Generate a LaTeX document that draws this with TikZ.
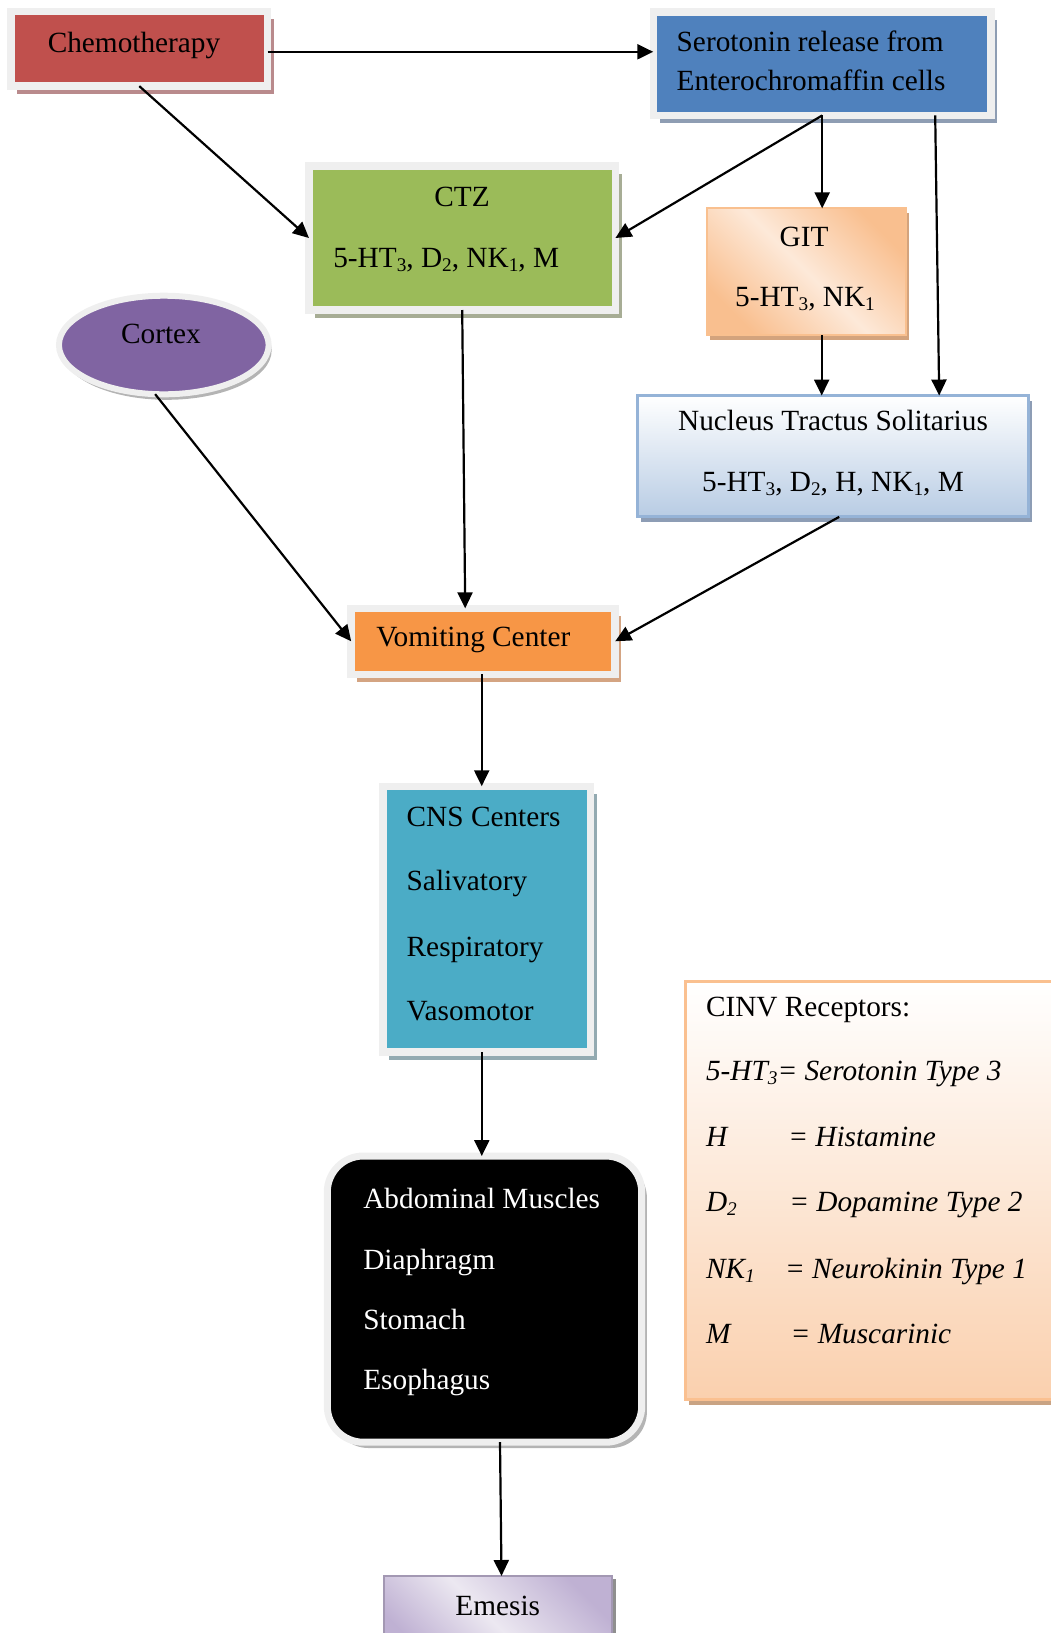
\documentclass[tikz,border=0pt]{standalone}
\usepackage{fontspec}
\setmainfont{Liberation Serif}
\usetikzlibrary{arrows.meta,shapes.geometric,shadows,calc}

\definecolor{frameg}{HTML}{EFEFEF}
\definecolor{chemoC}{HTML}{C0504D}\definecolor{chemoS}{HTML}{B98A8C}
\definecolor{seroC}{HTML}{4F81BD}\definecolor{seroS}{HTML}{8E9DB3}
\definecolor{ctzC}{HTML}{9BBB59}\definecolor{ctzS}{HTML}{A7AD95}
\definecolor{vcC}{HTML}{F79646}\definecolor{vcS}{HTML}{D4A482}
\definecolor{cnsC}{HTML}{4BACC6}\definecolor{cnsS}{HTML}{93AAB1}
\definecolor{cortC}{HTML}{8064A2}\definecolor{greyS}{HTML}{B4B4B4}
\definecolor{gitD}{HTML}{F9BF8F}\definecolor{gitL}{HTML}{FDE9D9}\definecolor{gitB}{HTML}{F9C08F}\definecolor{gitS}{HTML}{D3A37D}
\definecolor{ntsB}{HTML}{95B3D7}\definecolor{ntsD}{HTML}{B8CCE4}\definecolor{ntsS}{HTML}{8D9DB5}
\definecolor{legB}{HTML}{FAC090}\definecolor{legD}{HTML}{FAD0AE}\definecolor{legS}{HTML}{C9A383}
\definecolor{emD}{HTML}{BFB1D3}\definecolor{emL}{HTML}{ECE8F1}\definecolor{emB}{HTML}{A398B3}\definecolor{emS}{HTML}{8F8F8F}

\pgfdeclarehorizontalshading{gitsh}{100bp}{color(0bp)=(gitD); color(25bp)=(gitD); color(50bp)=(gitL); color(75bp)=(gitD); color(100bp)=(gitD)}
\pgfdeclarehorizontalshading{emsh}{100bp}{color(0bp)=(emD); color(25bp)=(emD); color(48bp)=(emL); color(75bp)=(emD); color(100bp)=(emD)}

\newcommand\mysub[1]{\raisebox{-4pt}{\fontsize{19.3}{19.3}\selectfont #1}}

\tikzset{
  arr/.style={line width=2.2pt,-{Triangle[length=16pt,width=15pt]}},
  bevel/.style={rectangle,inner sep=0pt,outer sep=0pt,draw=frameg,line width=7.5pt},
  thinbox/.style={rectangle,inner sep=0pt,outer sep=0pt},
  lbl/.style={inner sep=0pt,outer sep=0pt,font=\fontsize{29.3}{34}\selectfont},
  ilbl/.style={lbl,font=\fontsize{29.3}{34}\selectfont\itshape},
  shd/.style args={#1/#2/#3}{drop shadow={shadow xshift=#1,shadow yshift=#2,fill=#3,opacity=1}}
}

\begin{document}
\begin{tikzpicture}[x=1pt,y=-1pt]
\useasboundingbox (0,0) rectangle (1051,1633);
\clip (0,0) rectangle (1051,1633);

% boxes
\node[bevel,fill=chemoC,shd={6.25pt/-7.75pt/chemoS},minimum width=256.7pt,minimum height=74.7pt] (chemo) at (139.3,48.8) {};
\node[bevel,fill=seroC,shd={6.25pt/-7.75pt/seroS},minimum width=337.9pt,minimum height=103.3pt] (serot) at (822.2,63.8) {};
\node[bevel,fill=ctzC,shd={6.25pt/-7.75pt/ctzS},minimum width=306.4pt,minimum height=144pt] (ctz) at (462.2,238) {};
\node[thinbox,draw=gitB,line width=2pt,shading=gitsh,shading angle=45,shd={2.5pt/-4.5pt/gitS},minimum width=199.3pt,minimum height=126.7pt] (git) at (806.7,271.7) {};
\node[thinbox,draw=ntsB,line width=3pt,top color=white,bottom color=ntsD,shd={3pt/-5pt/ntsS},minimum width=390.6pt,minimum height=121.3pt] (nts) at (833.2,456.2) {};
\node[ellipse,inner sep=0pt,outer sep=0pt,draw=frameg,line width=6pt,fill=cortC,shd={3pt/-5.5pt/greyS},minimum width=209.7pt,minimum height=98.6pt] (cortex) at (163.8,345) {};
\node[bevel,fill=vcC,shd={6.25pt/-7.75pt/vcS},minimum width=264pt,minimum height=65.9pt] (vc) at (483.2,641.3) {};
\node[bevel,fill=cnsC,shd={6.25pt/-7.75pt/cnsS},minimum width=207.7pt,minimum height=265.9pt] (cns) at (486.8,919.2) {};
\node[bevel,line width=7pt,rounded corners=36pt,fill=black,shd={5.2pt/-5.8pt/greyS},minimum width=314.4pt,minimum height=286.2pt] (muscles) at (484.5,1299.1) {};
\node[thinbox,draw=emB,line width=2pt,shading=emsh,shading angle=45,shd={3.5pt/-3pt/emS},minimum width=228.6pt,minimum height=84pt] (emesis) at (498,1618) {};
\node[thinbox,draw=legB,line width=3pt,top color=white,bottom color=legD,shd={3pt/-5.5pt/legS},minimum width=384.5pt,minimum height=417.5pt] (legend) at (877.75,1190.25) {};

% texts
\node[lbl,anchor=base] (tchemo) at (134,52.7) {Chemotherapy};
\node[lbl,anchor=base west] (tsero1) at (676.7,51.7) {Serotonin release from};
\node[lbl,anchor=base west] (tsero2) at (676.7,90) {Enterochromaffin cells};
\node[lbl,anchor=base] (tctz1) at (462,206) {CTZ};
\node[lbl,anchor=base west] (tctz2) at (333.3,267.3) {5-HT\mysub{3}, D\mysub{2}, NK\mysub{1}, M};
\node[lbl,anchor=base] (tgit1) at (804,246) {GIT};
\node[lbl,anchor=base] (tgit2) at (805,306.7) {5-HT\mysub{3}, NK\mysub{1}};
\node[lbl,anchor=base] (tnts1) at (833,430) {Nucleus Tractus Solitarius};
\node[lbl,anchor=base] (tnts2) at (833,491.7) {5-HT\mysub{3}, D\mysub{2}, H, NK\mysub{1}, M};
\node[lbl,anchor=base] (tcortex) at (161,343.3) {Cortex};
\node[lbl,anchor=base] (tvc) at (473.3,646.7) {Vomiting Center};
\node[lbl,anchor=base west] (tcns1) at (406.7,826) {CNS Centers};
\node[lbl,anchor=base west] (tcns2) at (406.7,890.7) {Salivatory};
\node[lbl,anchor=base west] (tcns3) at (406.7,956) {Respiratory};
\node[lbl,anchor=base west] (tcns4) at (406.7,1020.7) {Vasomotor};
\node[lbl,anchor=base west,text=white] (tmus1) at (363.3,1208.3) {Abdominal Muscles};
\node[lbl,anchor=base west,text=white] (tmus2) at (363.3,1269.3) {Diaphragm};
\node[lbl,anchor=base west,text=white] (tmus3) at (363.3,1329.3) {Stomach};
\node[lbl,anchor=base west,text=white] (tmus4) at (363.3,1389.3) {Esophagus};
\node[lbl,anchor=base] (temesis) at (497.8,1615) {Emesis};
\node[lbl,anchor=base west] (tleg0) at (706,1016.7) {CINV Receptors:};
\node[ilbl,anchor=base west] (tleg1) at (706,1080) {5-HT\mysub{3}= Serotonin Type 3};
\node[ilbl,anchor=base west] (tleg2) at (706,1146.7) {\makebox[82.3pt][l]{H}= Histamine};
\node[ilbl,anchor=base west] (tleg3) at (706,1211.7) {\makebox[83.3pt][l]{D\mysub{2}}= Dopamine Type 2};
\node[ilbl,anchor=base west] (tleg4) at (706,1278.3) {\makebox[79pt][l]{NK\mysub{1}}= Neurokinin Type 1};
\node[ilbl,anchor=base west] (tleg5) at (706,1343.3) {\makebox[84.7pt][l]{M}= Muscarinic};

% connectors
\draw[arr] ([yshift=-3pt]chemo.east) -- ([yshift=-3pt]chemo.east -| serot.west);
\draw[arr] (chemo.south) -- (ctz.west);
\draw[arr] (serot.south) -- (ctz.east);
\draw[arr] (serot.south) -- (serot.south |- git.north);
\draw[arr] ([xshift=113pt]serot.south) -- ([xshift=106pt]nts.north);
\draw[arr] ([xshift=15pt]git.south) -- ([xshift=15pt]git.south |- nts.north);
\draw[arr] ([xshift=6pt]nts.south) -- (vc.east);
\draw[arr] (cortex.260) -- (vc.west);
\draw[arr] (ctz.south) -- ([xshift=3pt]ctz.south |- vc.north);
\draw[arr] ([xshift=-1.5pt]vc.south) -- ([xshift=-1.5pt]vc.south |- cns.north);
\draw[arr] ([xshift=-5pt]cns.south) -- ([xshift=-5pt]cns.south |- muscles.north);
\draw[arr] ([xshift=15.5pt]muscles.south) -- ([xshift=3.5pt]emesis.north);
\end{tikzpicture}
\end{document}
